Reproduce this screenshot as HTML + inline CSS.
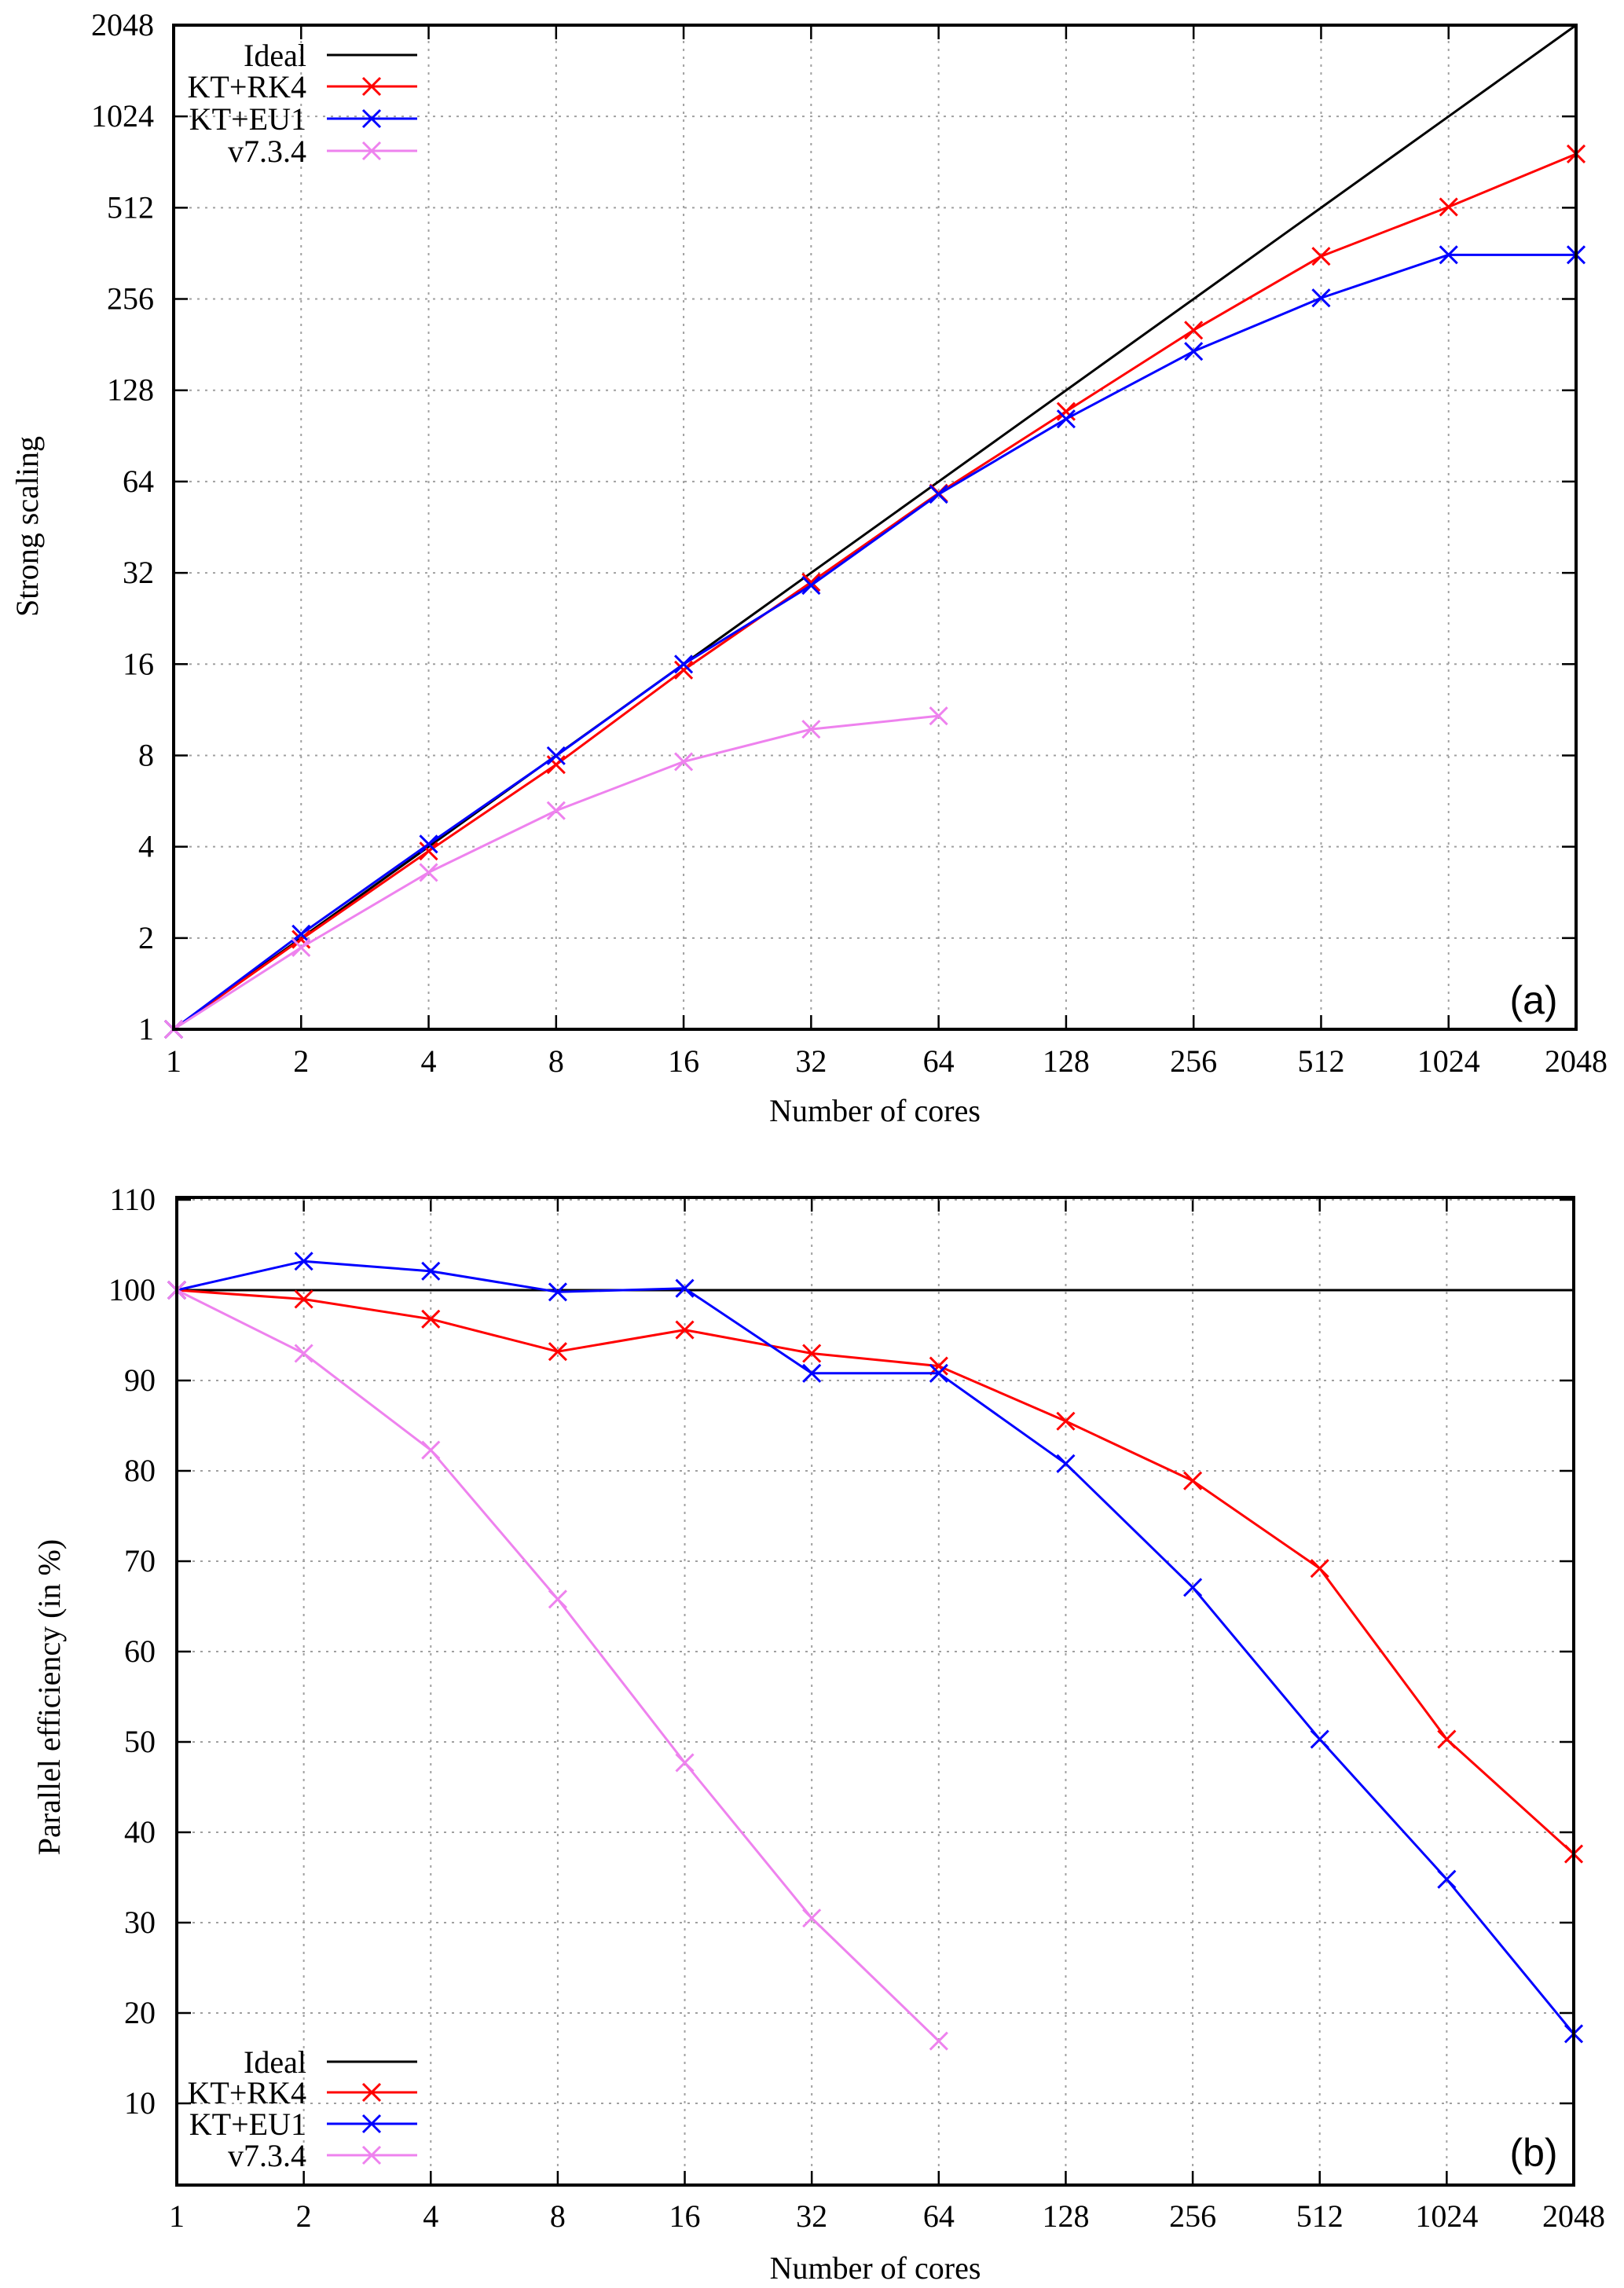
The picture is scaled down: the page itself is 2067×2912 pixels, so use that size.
<!DOCTYPE html>
<html><head><meta charset="utf-8"><style>
html,body{margin:0;padding:0;background:#fff;}
svg{display:block;}
</style></head><body>
<svg id="chart" width="2067" height="2912" viewBox="0 0 2067 2912" xmlns="http://www.w3.org/2000/svg" font-family="'Liberation Serif', serif"></svg>
<script>
const cores = [1,2,4,8,16,32,64,128,256,512,1024,2048];
const xTickLabels = ["1","2","4","8","16","32","64","128","256","512","1024","2048"];
const speedTicks = [1,2,4,8,16,32,64,128,256,512,1024,2048];
const effTicks = [10,20,30,40,50,60,70,80,90,100,110];
const rk4Speedup = [1,1.98,3.87,7.46,15.3,29.8,58.6,109,202,354,515,770];
const eu1Speedup = [1,2.06,4.08,7.98,16.0,29.1,58.1,103,172,258,358,358];
const v734Speedup = [1,1.86,3.29,5.26,7.63,9.76,10.8];
const rk4Eff = [100,99.0,96.8,93.2,95.6,93.0,91.6,85.5,78.9,69.2,50.3,37.6];
const eu1Eff = [100,103.2,102.1,99.8,100.2,90.8,90.8,80.8,67.1,50.3,34.8,17.7];
const v734Eff = [100,93.0,82.3,65.8,47.7,30.5,16.9];
const idealEff = [100,100];
const idealCores = [1,2048];

const NS="http://www.w3.org/2000/svg";
const svg=document.getElementById('chart');
function mk(tag,attrs,parent){const e=document.createElementNS(NS,tag);for(const k in attrs)e.setAttribute(k,attrs[k]);(parent||svg).appendChild(e);return e;}
function txt(s,attrs,parent){const e=mk('text',attrs,parent);e.textContent=s;return e;}

function panel(cfg){
  const g=mk('g',{});
  
  
  const L=cfg.L,R=cfg.R,T=cfg.T,B=cfg.B;
  const xs=v=>L+Math.log2(v)/11*(R-L);
  const ys=cfg.ys;
  cores.forEach((c,i)=>{
    const x=xs(c);
    if(i>0&&i<cores.length-1){
      const gl=mk('line',{x1:x,y1:T,x2:x,y2:B,stroke:'#a0a0a0','stroke-width':2,'stroke-dasharray':'3,7'},g);
      
      
      mk('line',{x1:x,y1:B,x2:x,y2:B-18,stroke:'#000','stroke-width':2.5},g);
      mk('line',{x1:x,y1:T,x2:x,y2:T+18,stroke:'#000','stroke-width':2.5},g);
    }
    const t=txt(xTickLabels[i],{x:x,y:cfg.xlabY,'font-size':40,'text-anchor':'middle'},g);
    
    
  });
  cfg.yticks.forEach(v=>{
    const y=ys(v);
    if(y>T+2&&y<B-2){
      const gl=mk('line',{x1:L,y1:y,x2:R,y2:y,stroke:'#a0a0a0','stroke-width':2,'stroke-dasharray':'3,7'},g);
      
      
      mk('line',{x1:L,y1:y,x2:L+18,y2:y,stroke:'#000','stroke-width':2.5},g);
      mk('line',{x1:R,y1:y,x2:R-18,y2:y,stroke:'#000','stroke-width':2.5},g);
    }
    const t=txt(String(v),{x:cfg.ylabX,y:y+13,'font-size':40,'text-anchor':'end'},g);
    
    
  });
  cfg.series.forEach(s=>{
    const sg=mk('g',{},g);
    
    
    const pts=s.y.map((v,i)=>[xs(s.x[i]),ys(v)]);
    const pl=mk('polyline',{points:pts.map(p=>p.join(',')).join(' '),fill:'none',stroke:s.color,'stroke-width':3,'stroke-linejoin':'round'},sg);
    
    
    if(s.marker){pts.forEach(p=>{
      const m=mk('path',{d:`M${p[0]-11},${p[1]-11}L${p[0]+11},${p[1]+11}M${p[0]-11},${p[1]+11}L${p[0]+11},${p[1]-11}`,stroke:s.color,'stroke-width':3,fill:'none'},sg);
      
      
    });}
  });
  const fr=mk('rect',{x:L,y:T,width:R-L,height:B-T,fill:'none',stroke:'#000','stroke-width':4},g);
  
  
  const lg=mk('g',{},g);
  
  
  cfg.series.forEach((s,i)=>{
    const y=cfg.legY[i];
    const e=mk('g',{},lg);
    
    
    txt(s.label,{x:390,y:y+14,'font-size':40,'text-anchor':'end'},e);
    mk('line',{x1:416,y1:y,x2:531,y2:y,stroke:s.color,'stroke-width':3},e);
    if(s.marker)mk('path',{d:`M462,${y-11}L484,${y+11}M462,${y+11}L484,${y-11}`,stroke:s.color,'stroke-width':3},e);
  });
  const pl=txt(cfg.tag,{x:cfg.tagX,y:cfg.tagY,'font-size':50,'font-family':"'Liberation Sans', sans-serif",'text-anchor':'middle'},g);
  
  
  const xt=txt('Number of cores',{x:(L+R)/2,y:cfg.xtitleY,'font-size':40,'text-anchor':'middle'},g);
  
  
  const yt=txt(cfg.ytitle,{x:0,y:0,'font-size':40,'text-anchor':'middle',transform:`translate(${cfg.ytitleX},${cfg.ytitleY}) rotate(-90)`},g);
  
  
}

panel({name:'strong-scaling-panel',L:221,R:2006,T:32,B:1310,
  ys:v=>1310-Math.log2(v)/11*(1310-32),
  yticks:speedTicks,xlabY:1364,ylabX:196,
  series:[
    {name:'ideal-series',label:'Ideal',color:'#000',x:cores,y:cores,marker:false},
    {name:'kt-rk4-series',label:'KT+RK4',color:'#ff0000',x:cores,y:rk4Speedup,marker:true},
    {name:'kt-eu1-series',label:'KT+EU1',color:'#0000ff',x:cores,y:eu1Speedup,marker:true},
    {name:'v734-series',label:'v7.3.4',color:'#ee82ee',x:cores.slice(0,v734Speedup.length),y:v734Speedup,marker:true}],
  legY:[70,110,151,192],tag:'(a)',tagX:1952,tagY:1290,
  xtitleY:1427,ytitle:'Strong scaling',ytitleX:48,ytitleY:670});

panel({name:'parallel-efficiency-panel',L:225,R:2003,T:1524,B:2781,
  ys:v=>2562-(v-20)*11.5,
  yticks:effTicks,xlabY:2834,ylabX:198,
  series:[
    {name:'ideal-series',label:'Ideal',color:'#000',x:idealCores,y:idealEff,marker:false},
    {name:'kt-rk4-series',label:'KT+RK4',color:'#ff0000',x:cores,y:rk4Eff,marker:true},
    {name:'kt-eu1-series',label:'KT+EU1',color:'#0000ff',x:cores,y:eu1Eff,marker:true},
    {name:'v734-series',label:'v7.3.4',color:'#ee82ee',x:cores.slice(0,v734Eff.length),y:v734Eff,marker:true}],
  legY:[2624,2663,2703,2743],tag:'(b)',tagX:1952,tagY:2757,
  xtitleY:2900,ytitle:'Parallel efficiency (in %)',ytitleX:76,ytitleY:2160});
</script>
</body></html>
